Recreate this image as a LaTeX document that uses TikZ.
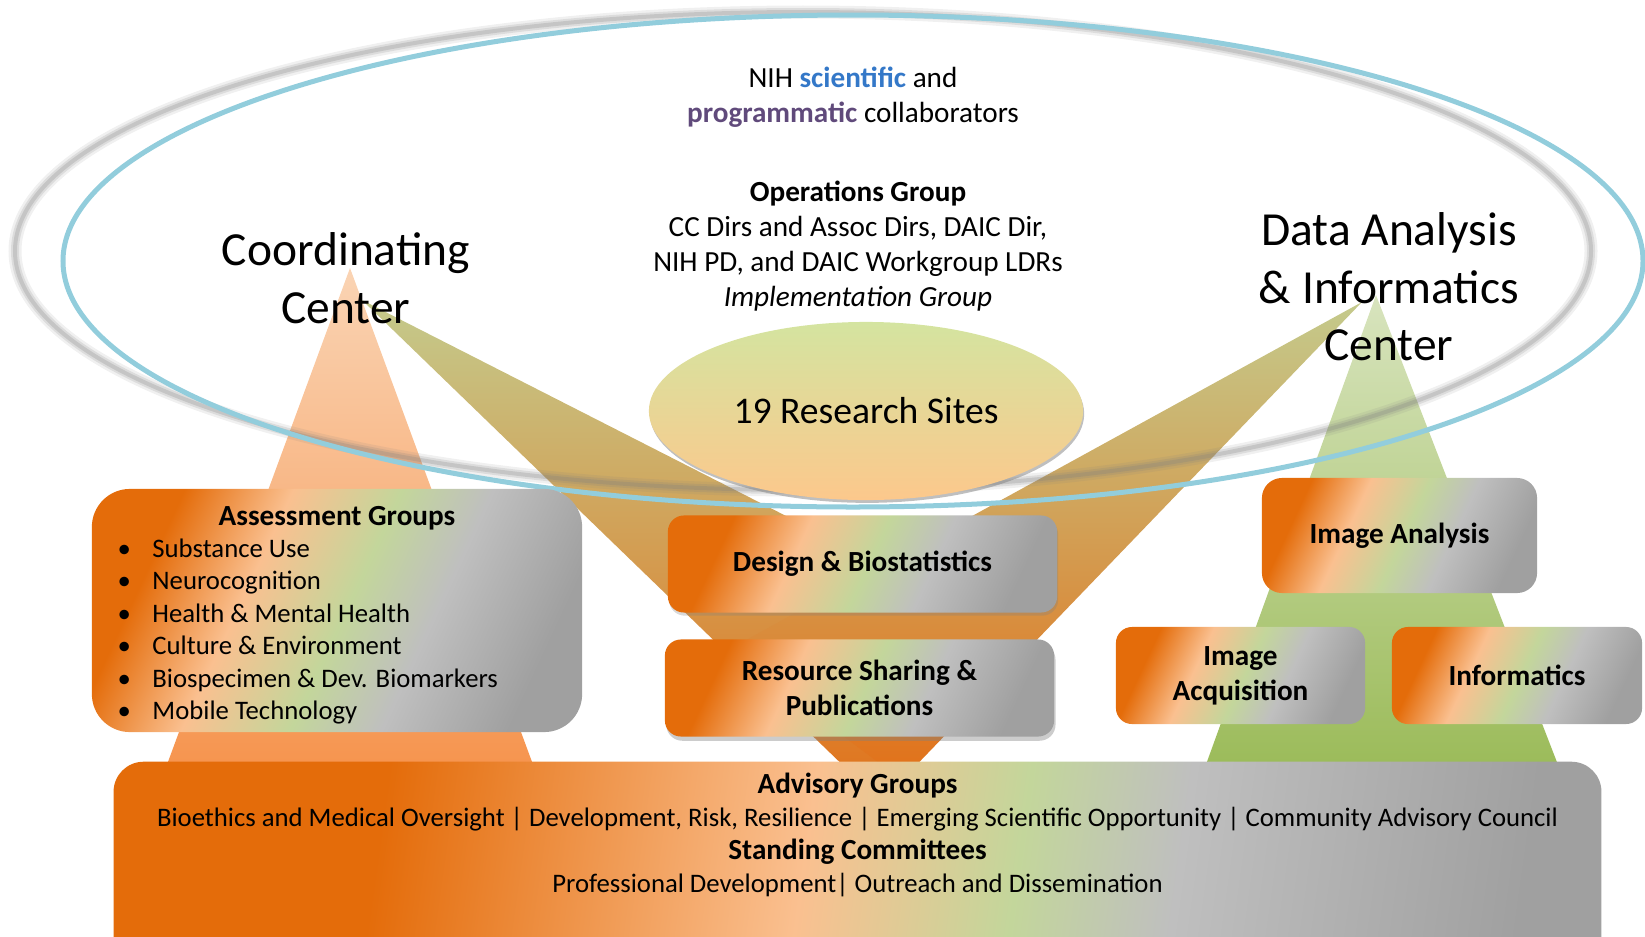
\documentclass[tikz,border=0pt]{standalone}
\usepackage{fontspec}
\setmainfont{Carlito}
\usetikzlibrary{positioning, calc, shadows, shapes.geometric}
\definecolor{ringblue}{RGB}{146, 205, 220}
\definecolor{sciblue}{RGB}{52, 120, 200}
\definecolor{progpurple}{RGB}{96, 74, 123}
\definecolor{boxorange}{RGB}{228, 108, 10}
\definecolor{boxpeach}{RGB}{250, 192, 144}
\definecolor{boxgreen}{RGB}{195, 214, 155}
\definecolor{boxgray}{RGB}{191, 191, 191}
\definecolor{boxdark}{RGB}{160, 160, 160}
\definecolor{ccpeach}{RGB}{250, 212, 180}
\definecolor{ccorange}{RGB}{246, 148, 78}
\definecolor{daiclight}{RGB}{216, 228, 190}
\definecolor{daicgreen}{RGB}{155, 187, 89}
\definecolor{wedgeolive}{RGB}{196, 202, 140}
\definecolor{wedgetan}{RGB}{212, 170, 100}
\definecolor{wedgeorange}{RGB}{226, 112, 24}
\definecolor{sitestop}{RGB}{212, 228, 160}
\definecolor{sitesbot}{RGB}{252, 200, 140}
\pgfdeclarehorizontalshading{boxfade}{100bp}{color(0bp)=(boxorange); color(27bp)=(boxorange); color(39bp)=(boxpeach); color(51bp)=(boxgreen); color(61bp)=(boxgray); color(75bp)=(boxdark); color(100bp)=(boxdark)}
\pgfdeclarehorizontalshading{advfade}{100bp}{color(0bp)=(boxorange); color(32bp)=(boxorange); color(48bp)=(boxpeach); color(56bp)=(boxgreen); color(62bp)=(boxgray); color(75bp)=(boxdark); color(100bp)=(boxdark)}

\begin{document}
\begin{tikzpicture}[
    x=0.01cm, y=-0.01cm,
    grp/.style={rectangle, rounded corners=0.16cm, shade, shading=boxfade, shading angle=-25,
        align=center, inner sep=0pt, font=\fontsize{8.3}{10}\selectfont\bfseries},
    center/.style={align=center, font=\fontsize{13.5}{16.4}\selectfont},
    desc/.style={align=center, font=\fontsize{8.3}{10}\selectfont},
    small/.style={font=\fontsize{7.6}{9.2}\selectfont}
]
\useasboundingbox (0,0) rectangle (1645,936);

% --- pyramids and wedges ---
\shade[top color=ccpeach, bottom color=ccorange] (350,268) -- (535,770) -- (165,770) -- cycle;
\shade[top color=daiclight, bottom color=daicgreen] (1376,295) -- (1560,770) -- (1204,770) -- cycle;
\shade[top color=wedgeolive, middle color=wedgetan, bottom color=wedgeorange]
    (362,300) -- (900,574) -- (884,805) -- cycle;
\shade[top color=wedgeolive, middle color=wedgetan, bottom color=wedgeorange]
    (1362,302) -- (902,780) -- (728,650) -- cycle;

% --- collaborator ring ---
\draw[gray, line width=0.13cm, opacity=0.12] (803,251) ellipse [x radius=788, y radius=239];
\draw[gray, line width=0.08cm, opacity=0.18] (803,251) ellipse [x radius=788, y radius=239];
\draw[gray, line width=0.04cm, opacity=0.25] (803,251) ellipse [x radius=788, y radius=239];
\draw[ringblue, line width=0.05cm] (853,261) ellipse [x radius=790, y radius=246];

\node[desc] (nih) at (853,97)
    {NIH \textcolor{sciblue}{\bfseries scientific} and\\
     \textcolor{progpurple}{\bfseries programmatic} collaborators};
\node[desc] (ops) at (858,246)
    {\textbf{Operations Group}\\CC Dirs and Assoc Dirs, DAIC Dir,\\
     NIH PD, and DAIC Workgroup LDRs\\\textit{Implementation Group}};
\node[center] (cc) at (346,278) {Coordinating\\Center};
\node[center] (daic) at (1389,287) {Data Analysis\\\& Informatics\\Center};

\node[ellipse, minimum width=4.34cm, minimum height=1.78cm, top color=sitestop, bottom color=sitesbot,
    drop shadow={opacity=0.5, shadow xshift=0.3pt, shadow yshift=-0.8pt},
    font=\fontsize{10.7}{12}\selectfont] (sites) at (866,411) {19 Research Sites};

% --- groups ---
\node[grp, rounded corners=0.38cm, minimum width=4.9cm, minimum height=2.43cm] (assess) at (337,610.5) {};
\node[font=\fontsize{8.3}{10}\selectfont\bfseries] (atitle) at (337,518) {Assessment Groups};
\node[small, anchor=west, inner sep=0pt] (alist) at (117,632)
    {\begin{tabular}{@{}l@{\hspace{6.1pt}}l@{}}
     \textbullet & Substance Use\\
     \textbullet & Neurocognition\\
     \textbullet & Health \& Mental Health\\
     \textbullet & Culture \& Environment\\
     \textbullet & Biospecimen \& Dev. Biomarkers\\
     \textbullet & Mobile Technology
     \end{tabular}};

\node[grp, minimum width=3.89cm, minimum height=0.97cm,
    drop shadow={opacity=0.3, shadow xshift=0.3pt, shadow yshift=-0.9pt}] (design) at (862.5,564)
    {Design \& Biostatistics};
\node[grp, minimum width=3.89cm, minimum height=0.97cm,
    drop shadow={opacity=0.4, shadow xshift=0.4pt, shadow yshift=-1.2pt}] (share) at (859.5,688)
    {Resource Sharing \&\\Publications};

\node[grp, rounded corners=0.2cm, minimum width=2.75cm, minimum height=1.15cm] (imgana) at (1399.5,535.5)
    {Image Analysis};
\node[grp, minimum width=2.49cm, minimum height=0.97cm] (imgacq) at (1240.5,675.5)
    {Image\\Acquisition};
\node[grp, minimum width=2.5cm, minimum height=0.97cm] (info) at (1517,675.5)
    {Informatics};

% --- advisory ---
\node[grp, shading=advfade, shading angle=-8, rounded corners=0.3cm, minimum width=14.87cm,
    minimum height=2.1cm, anchor=north] (advisory) at (857.5,761) {};
\node[desc, font=\fontsize{8.3}{9.3}\selectfont] (advtext) at (857.5,835)
    {\textbf{Advisory Groups}\\
     {\fontsize{7.6}{9.3}\selectfont Bioethics and Medical Oversight | Development, Risk, Resilience | Emerging Scientific Opportunity | Community Advisory Council}\\
     \textbf{Standing Committees}\\
     {\fontsize{7.6}{9.3}\selectfont Professional Development| Outreach and Dissemination}};
\end{tikzpicture}
\end{document}
